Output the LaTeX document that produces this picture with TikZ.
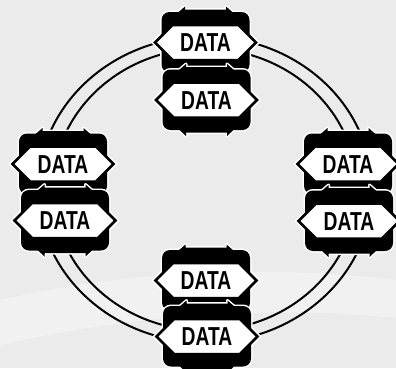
\documentclass[tikz,border=0pt]{standalone}
\usepackage{fontspec}
\newfontfamily\datafont{Liberation Sans}
\tikzset{
  bg/.style={fill=black!8},
  bgband/.style={fill=white, opacity=0.35},
  ring/.style={draw=black, line width=2pt},
  rectshape/.style={insert path={(-44,-30) [rounded corners=8pt] rectangle (44,30.5)}},
  toparrow/.style={insert path={(-28,-29) -- (-20.5,-35.5) -- (-20.5,-32.5) -- (20.5,-32.5) -- (20.5,-35.5) -- (28,-29) -- (20.5,-22.5) -- (20.5,-25.5) -- (-20.5,-25.5) -- (-20.5,-22.5) -- cycle}},
  botarrow/.style={insert path={(-28,29.5) -- (-20.5,36.5) -- (-20.5,33) -- (20.5,33) -- (20.5,36.5) -- (28,29.5) -- (20.5,22.5) -- (20.5,26) -- (-20.5,26) -- (-20.5,22.5) -- cycle}},
  hexshape/.style={insert path={(-50.5,0.5) -- (-33,-17) -- (33,-17) -- (50.5,0.5) -- (33,18) -- (-33,18) -- cycle}},
  halo/.style={draw=white, fill=white, line width=3pt, line join=round},
  datatext/.style={inner sep=0pt, text=black, font=\datafont\bfseries\fontsize{26}{26}\selectfont},
  datanode/.pic={
    \path[halo] [rectshape];
    \path[halo] [toparrow];
    \path[halo] [botarrow];
    \path[draw=white, fill=white, line width=6pt, line join=miter] [hexshape];
    \path[fill=black] [rectshape];
    \path[fill=black] [toparrow];
    \path[fill=black] [botarrow];
    \path[draw=black, fill=white, line width=2.5pt, line join=miter] [hexshape];
    \node[datatext] (-t) at (0,0.8) {\scalebox{0.74}[1]{DATA}};
  }
}
\begin{document}
\begin{tikzpicture}[x=1pt,y=-1pt]
  \useasboundingbox (0,0) rectangle (396,368);
  \clip (0,0) rectangle (396,368);
  \path[bg] (0,0) rectangle (396,368);
  \path[bgband] (0,300) .. controls (130,270) and (270,265) .. (396,280)
                -- (396,318) .. controls (270,305) and (130,315) .. (0,345) -- cycle;
  \coordinate (ringc) at (205,189.5);
  \draw[ring] (ringc) ellipse [x radius=167, y radius=153];
  \draw[ring] (ringc) ellipse [x radius=152, y radius=141];
  \pic (t1) at (205.5,42) {datanode};
  \pic (t2) at (206.5,99.5) {datanode};
  \pic (l1) at (63,163.5) {datanode};
  \pic (l2) at (65,220) {datanode};
  \pic (r1) at (348,163.5) {datanode};
  \pic (r2) at (349,220.5) {datanode};
  \pic (b1) at (206,280) {datanode};
  \pic (b2) at (207,336) {datanode};
\end{tikzpicture}
\end{document}
